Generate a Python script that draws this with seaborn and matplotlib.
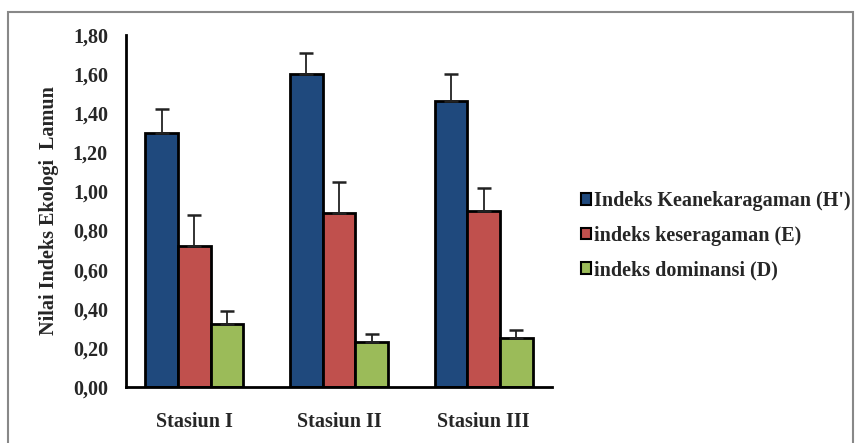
import numpy as np
import pandas as pd
import seaborn as sns
import matplotlib.pyplot as plt
from matplotlib.patches import Patch, Rectangle

stations = ['Stasiun I', 'Stasiun II', 'Stasiun III']
indices = ["Indeks Keanekaragaman (H')", 'indeks keseragaman (E)', 'indeks dominansi (D)']
h_vals = [1.30, 1.60, 1.46]
e_vals = [0.72, 0.89, 0.90]
d_vals = [0.32, 0.23, 0.25]
h_err = [0.12, 0.11, 0.14]
e_err = [0.16, 0.16, 0.12]
d_err = [0.07, 0.04, 0.04]
colors = ['#1F497D', '#C0504D', '#9BBB59']

sns.set_style('white')
plt.rcParams['font.family'] = ['Liberation Serif', 'DejaVu Serif']
plt.rcParams['font.weight'] = 'bold'
fs = 14.5

df = pd.DataFrame({
    'Stasiun': stations * 3,
    'Indeks': np.repeat(indices, 3),
    'Nilai': h_vals + e_vals + d_vals,
    'err': h_err + e_err + d_err,
})

fig = plt.figure(figsize=(8.62, 4.43), dpi=100)
ax = fig.add_axes([126 / 862, 1 - 387 / 443, (552 - 126) / 862, (387 - 35) / 443])

sns.barplot(data=df, x='Stasiun', y='Nilai', hue='Indeks', palette=colors,
            saturation=1, width=0.675, edgecolor='black', linewidth=2,
            errorbar=None, legend=False, ax=ax)

# upper-only error bars placed at bar centres
for cont, idx in zip(ax.containers, indices):
    sub = df[df['Indeks'] == idx]
    xs = [p.get_x() + p.get_width() / 2 for p in cont]
    ax.errorbar(xs, sub['Nilai'], yerr=[np.zeros(len(sub)), sub['err']],
                fmt='none', ecolor='#222222', elinewidth=1.3, capsize=5,
                capthick=1.8, zorder=1)

ax.set_ylim(0, 1.8)
ax.set_yticks(np.arange(0, 1.81, 0.2))
ax.set_yticklabels([f'{v:.2f}'.replace('.', ',') for v in np.arange(0, 1.81, 0.2)],
                   fontsize=fs, fontweight='bold')
ax.set_xticks(range(3))
ax.set_xticklabels(stations, fontsize=fs, fontweight='bold')
ax.tick_params(axis='both', length=0)
ax.tick_params(axis='x', pad=18)
ax.tick_params(axis='y', pad=13)
ax.set_xlabel('')
ax.set_ylabel('Nilai Indeks Ekologi  Lamun', fontsize=fs, fontweight='bold', labelpad=10)
for s in ['top', 'right']:
    ax.spines[s].set_visible(False)
for s in ['left', 'bottom']:
    ax.spines[s].set_color('black')
    ax.spines[s].set_linewidth(2)

handles = [Patch(facecolor=c, edgecolor='black', linewidth=1.5) for c in colors]
fig.legend(handles, indices, loc='upper left', bbox_to_anchor=(573 / 862, 1 - 183 / 443),
           frameon=False, handlelength=0.5, handleheight=0.5, handletextpad=0.15,
           labelspacing=0.72, borderaxespad=0, prop={'size': fs, 'weight': 'bold'})

fig.patches.append(Rectangle((8 / 862, -0.01), (853 - 8) / 862, (443 - 12) / 443 + 0.01,
                             transform=fig.transFigure, fill=False,
                             edgecolor='#888888', linewidth=1.5))

fig.savefig('out.png', dpi=100)
